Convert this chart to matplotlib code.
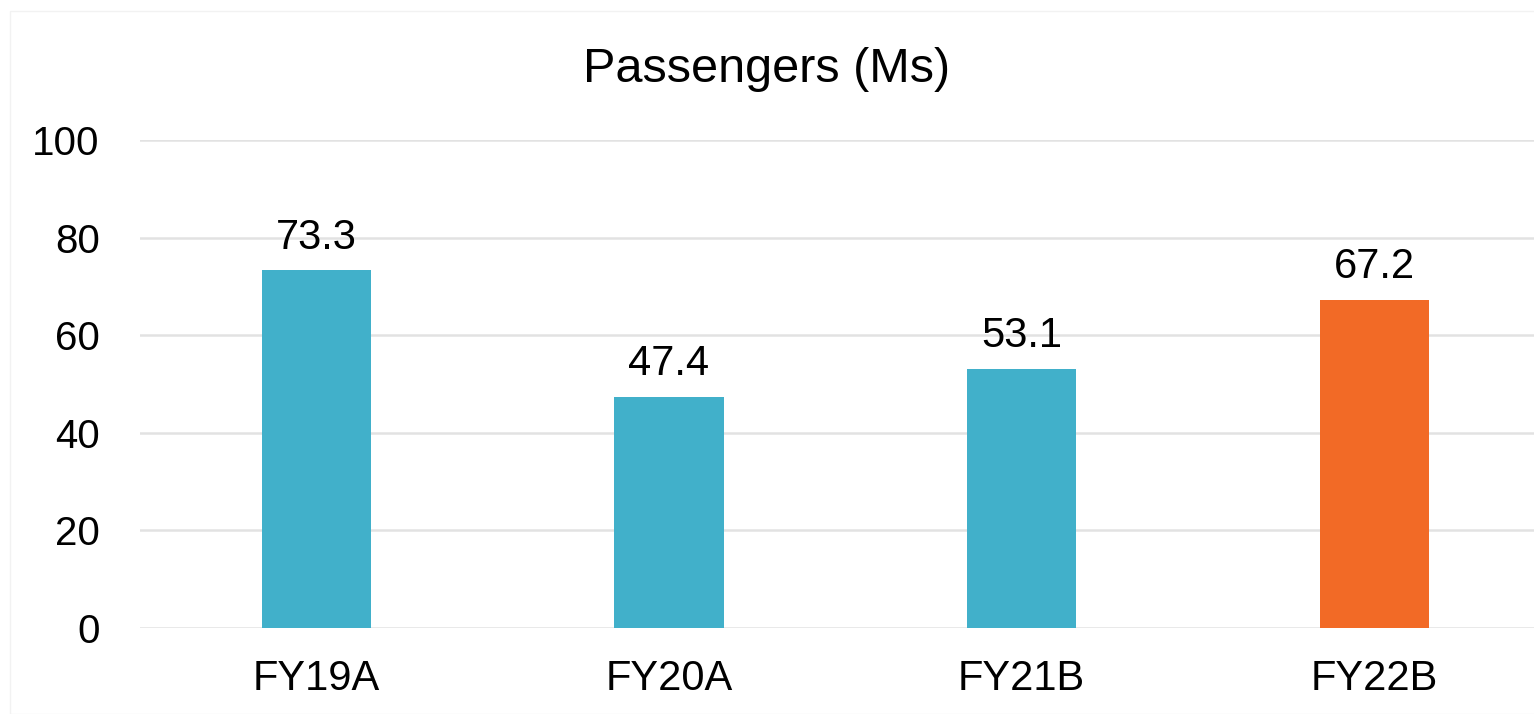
import matplotlib.pyplot as plt
from matplotlib.patches import Rectangle

categories = ["FY19A", "FY20A", "FY21B", "FY22B"]
passengers = [73.3, 47.4, 53.1, 67.2]
bar_colors = ["#41B0CA", "#41B0CA", "#41B0CA", "#F26A26"]

plt.rcParams['font.family'] = ['Liberation Sans', 'DejaVu Sans']

fig = plt.figure(figsize=(15.34, 7.14), dpi=100)
ax = fig.add_axes([140 / 1534, 1 - 628 / 714, 1 - 140 / 1534, 488 / 714])

x = range(len(categories))
bars = ax.bar(x, passengers, width=0.31, color=bar_colors, zorder=3)
for b, v in zip(bars, passengers):
    ax.text(b.get_x() + b.get_width() / 2, v + 2.6, "{:.1f}".format(v),
            ha="center", va="bottom", fontsize=30)

ax.set_ylim(0, 100)
ax.set_xlim(-0.5, 3.453)
ax.set_yticks(range(0, 101, 20))
ax.set_xticks(list(x))
ax.set_xticklabels(categories)
ax.tick_params(axis="both", length=0)
ax.tick_params(axis="x", pad=22, labelsize=30)
ax.tick_params(axis="y", pad=29, labelsize=29)
ax.grid(axis="y", color="#e2e2e2", linewidth=1.8, zorder=0)
for s in ax.spines.values():
    s.set_visible(False)

fig.text(0.5, 1 - 70 / 714, "Passengers (Ms)", ha="center", va="center", fontsize=35)
fig.patches.append(Rectangle((10 / 1534, 0), 1, 1 - 11 / 714, transform=fig.transFigure,
                             fill=False, edgecolor="#f2f2f2", linewidth=1))

fig.savefig("out.png", dpi=100)
